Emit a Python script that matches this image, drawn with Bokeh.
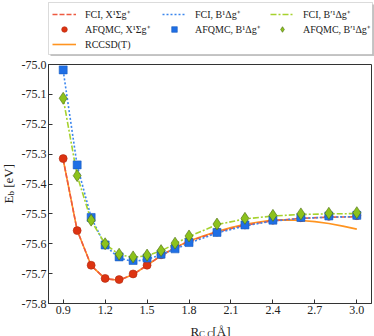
from bokeh.plotting import figure
from bokeh.layouts import column, row
from bokeh.models import (Legend, LegendItem, Range1d, FixedTicker, PrintfTickFormatter,
                          Label, BoxAnnotation, Div)
from bokeh.embed import file_html
from bokeh.resources import INLINE

# ---- data ----
R = [0.9, 1.0, 1.1, 1.2, 1.3, 1.4, 1.5, 1.6, 1.7, 1.8, 2.0, 2.2, 2.4, 2.6, 2.8, 3.0]

fci_X = [-75.318, -75.555, -75.673, -75.717, -75.722, -75.703, -75.672, -75.640,
         -75.613, -75.592, -75.561, -75.538, -75.523, -75.515, -75.511, -75.510]
fci_B = [-75.020, -75.338, -75.512, -75.606, -75.648, -75.660, -75.652, -75.637,
         -75.618, -75.598, -75.564, -75.540, -75.524, -75.515, -75.511, -75.509]
fci_Bp = [-75.113, -75.372, -75.522, -75.601, -75.636, -75.646, -75.640, -75.624,
          -75.600, -75.576, -75.536, -75.517, -75.507, -75.502, -75.500, -75.499]

afqmc_X = [-75.315, -75.556, -75.672, -75.716, -75.720, -75.701, -75.672, -75.637,
           -75.612, -75.592, -75.561, -75.537, -75.521, -75.513, -75.508, -75.506]
afqmc_B = [-75.018, -75.336, -75.512, -75.604, -75.644, -75.656, -75.648, -75.635,
           -75.617, -75.596, -75.562, -75.537, -75.521, -75.512, -75.507, -75.505]
afqmc_Bp = [-75.113, -75.372, -75.521, -75.600, -75.635, -75.644, -75.638, -75.623,
            -75.598, -75.574, -75.534, -75.515, -75.505, -75.500, -75.498, -75.496]

R_cc = [0.9, 1.0, 1.1, 1.2, 1.3, 1.4, 1.5, 1.6, 1.7, 1.8, 1.9, 2.0, 2.1, 2.2,
        2.3, 2.4, 2.5, 2.6, 2.7, 2.8, 2.9, 3.0]
rccsdt = [-75.318, -75.555, -75.673, -75.717, -75.722, -75.703, -75.672, -75.640,
          -75.613, -75.591, -75.574, -75.559, -75.546, -75.535, -75.527, -75.521,
          -75.520, -75.522, -75.526, -75.532, -75.541, -75.551]

x_ticks = [0.9, 1.2, 1.5, 1.8, 2.1, 2.4, 2.7, 3.0]
y_ticks = [-75.8, -75.7, -75.6, -75.5, -75.4, -75.3, -75.2, -75.1, -75.0]

leg_fci = ["FCI, X¹Σg⁺", "FCI, B¹Δg⁺", "FCI, B′¹Δg⁺"]
leg_afqmc = ["AFQMC, X¹Σg⁺", "AFQMC, B¹Δg⁺", "AFQMC, B′¹Δg⁺"]
leg_cc = "RCCSD(T)"

# ---- style ----
FONT = "Liberation Serif"
C_RED_L = "#ee5a40"
C_RED_M = "#dd3311"
C_BLUE_L = "#3b86ee"
C_BLUE_M = "#1f6fe5"
C_GREEN_L = "#a6d22e"
C_GREEN_M = "#8cc21c"
C_ORANGE = "#ff9420"
AX = "#333333"
TXT = "#222222"

line_styles = {
    "cc": dict(line_color=C_ORANGE, line_width=1.6),
    "fx": dict(line_color=C_RED_L, line_width=1.6, line_dash="5 2"),
    "fb": dict(line_color=C_BLUE_L, line_width=1.6, line_dash="2 2"),
    "fbp": dict(line_color=C_GREEN_L, line_width=1.6, line_dash="6 2 2 2"),
}
marker_styles = {
    "ax": dict(marker="circle", size=8, fill_color=C_RED_M, line_color="#b02a10", line_width=0.6),
    "ab": dict(marker="square", size=8, fill_color=C_BLUE_M, line_color="#1a5cc0", line_width=0.6),
    "abp": dict(marker="diamond", size=12, fill_color=C_GREEN_M, line_color="#4a6a10", line_width=0.6),
}


def blank_fig(w, h):
    f = figure(width=w, height=h, output_backend="svg", toolbar_location=None,
               x_range=Range1d(0, 1), y_range=Range1d(0, 1),
               x_axis_type=None, y_axis_type=None,
               min_border_left=0, min_border_right=0, min_border_top=0, min_border_bottom=0)
    f.grid.visible = False
    f.outline_line_color = None
    f.background_fill_color = "white"
    f.border_fill_color = "white"
    return f


# ---- main plot ----
p = figure(width=358, height=263, output_backend="svg", toolbar_location=None,
           x_range=Range1d(0.795, 3.105), y_range=Range1d(-75.8, -75.0),
           min_border_left=32, min_border_right=3, min_border_top=8, min_border_bottom=16)
p.grid.visible = False
p.outline_line_color = AX
p.outline_line_width = 1
p.background_fill_color = "white"
p.border_fill_color = "white"

for ax in (p.xaxis[0], p.yaxis[0]):
    ax.axis_line_color = AX
    ax.major_tick_line_color = AX
    ax.major_tick_in = 4
    ax.major_tick_out = 0
    ax.minor_tick_line_color = None
    ax.major_label_text_font = FONT
    ax.major_label_text_font_size = "12px"
    ax.major_label_text_color = TXT
    ax.major_label_standoff = 2
p.xaxis[0].ticker = FixedTicker(ticks=x_ticks)
p.yaxis[0].ticker = FixedTicker(ticks=y_ticks)
p.xaxis[0].formatter = PrintfTickFormatter(format="%.1f")
p.yaxis[0].formatter = PrintfTickFormatter(format="%.1f")

p.line(R_cc, rccsdt, **line_styles["cc"])
p.line(R, fci_X, **line_styles["fx"])
p.line(R, fci_B, **line_styles["fb"])
p.line(R, fci_Bp, **line_styles["fbp"])
p.scatter(R, afqmc_X, **marker_styles["ax"])
p.scatter(R, afqmc_B, **marker_styles["ab"])
p.scatter(R, afqmc_Bp, **marker_styles["abp"])

# ---- legend strip: same styles; sample renderers lie outside this strip's ranges ----
lf = blank_fig(374, 56)
lf.add_layout(BoxAnnotation(left=50, right=374, top=52, bottom=0,
                            left_units="screen", right_units="screen",
                            top_units="screen", bottom_units="screen",
                            fill_color="#9a9a9a", fill_alpha=0.6, line_color=None))
lf.add_layout(BoxAnnotation(left=48, right=372, top=54, bottom=2,
                            left_units="screen", right_units="screen",
                            top_units="screen", bottom_units="screen",
                            fill_color="white", fill_alpha=1.0,
                            line_color="#888888", line_width=1))
g_fx = lf.line(R, fci_X, **line_styles["fx"])
g_fb = lf.line(R, fci_B, **line_styles["fb"])
g_fbp = lf.line(R, fci_Bp, **line_styles["fbp"])
g_ax = lf.scatter(R, afqmc_X, **marker_styles["ax"])
g_ab = lf.scatter(R, afqmc_B, **marker_styles["ab"])
g_abp = lf.scatter(R, afqmc_Bp, **marker_styles["abp"])
g_cc = lf.line(R_cc, rccsdt, **line_styles["cc"])

leg_kw = dict(orientation="vertical", label_text_font=FONT, label_text_font_size="10px",
              label_text_color=TXT, glyph_width=24, glyph_height=14, label_height=14,
              label_width=20, label_standoff=9, spacing=1, padding=0, margin=0,
              border_line_color=None, background_fill_alpha=0.0)
columns_spec = [
    (52, 5, [(leg_fci[0], g_fx), (leg_afqmc[0], g_ax), (leg_cc, g_cc)]),
    (162, 20, [(leg_fci[1], g_fb), (leg_afqmc[1], g_ab)]),
    (270, 20, [(leg_fci[2], g_fbp), (leg_afqmc[2], g_abp)]),
]
for lx, ly, entries in columns_spec:
    lg = Legend(items=[LegendItem(label=t, renderers=[r]) for t, r in entries],
                location=(lx, ly), **leg_kw)
    lf.add_layout(lg)

# ---- y axis label: E_b [eV] (HTML, rotated) ----
yl = Div(width=16, height=263, margin=0,
         text=("<div style=\"margin-top:108px; margin-left:2px; writing-mode:vertical-rl; "
               "transform:rotate(180deg); font-family:'Liberation Serif',serif; font-size:13px; "
               "line-height:13px; white-space:nowrap; color:#222222;\">"
               "E<sub style=\"font-size:9px; line-height:0; vertical-align:-2px;\">b</sub> [eV]</div>"))

# ---- x axis label strip: R_{C,C}[Å] ----
lab_kw = dict(x_units="screen", y_units="screen", text_font=FONT, text_color=TXT,
              text_baseline="alphabetic", text_align="left")
xl = blank_fig(374, 17)
xl.add_layout(Label(x=190, y=5, text="R", text_font_size="13px", **lab_kw))
xl.add_layout(Label(x=198.5, y=3, text="C,C", text_font_size="9px", **lab_kw))
xl.add_layout(Label(x=212, y=5, text="[Å]", text_font_size="13px", **lab_kw))

layout = column(lf, row(yl, p, spacing=0), xl, spacing=0)
open("out.html", "w").write(file_html(layout, INLINE))
